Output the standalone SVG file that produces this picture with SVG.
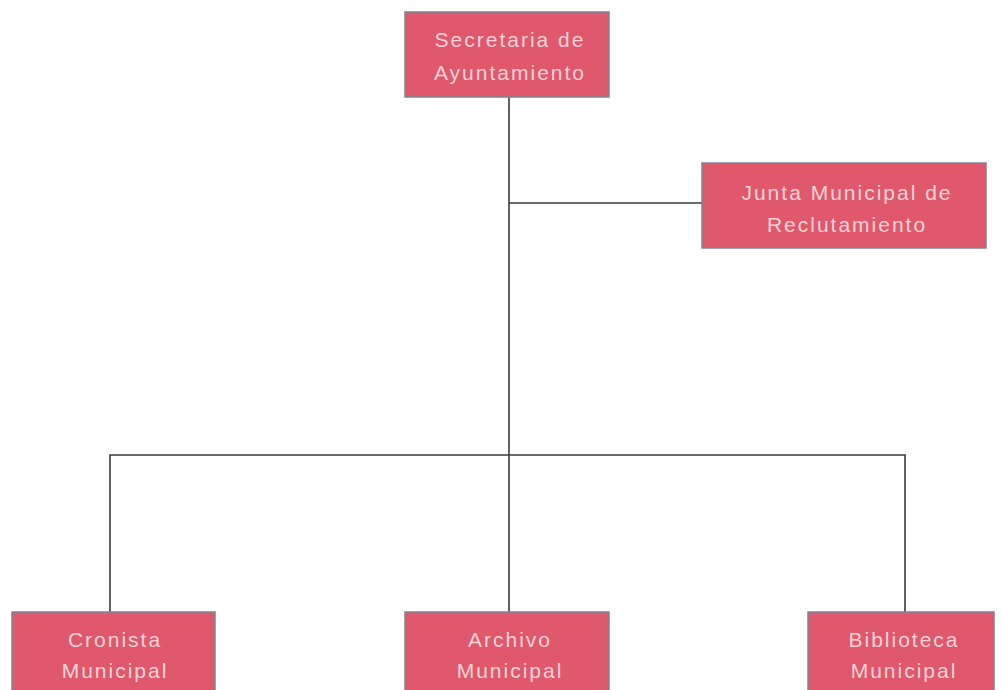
<svg xmlns="http://www.w3.org/2000/svg" width="1001" height="690" viewBox="0 0 1001 690">
  <style>
    .box { fill: #e0586b; stroke: #7d8296; stroke-width: 1.5; }
    .lbl { font-family: "Liberation Sans", Arial, sans-serif; font-size: 21px; fill: #f7d3d8; text-anchor: middle; letter-spacing: 2px; }
    .wire { stroke: #3a3a3a; stroke-width: 1.6; fill: none; }
  </style>
  <rect x="0" y="0" width="1001" height="690" fill="#ffffff"/>

  <!-- connectors -->
  <g id="connectors">
    <line class="wire" x1="509" y1="97" x2="509" y2="612"/>
    <line class="wire" x1="509" y1="203" x2="702" y2="203"/>
    <polyline class="wire" points="110,612 110,455 905,455 905,612"/>
  </g>

  <g id="secretaria">
    <rect class="box" x="405" y="12" width="204" height="85"/>
    <text class="lbl" x="510" y="47">Secretaria de</text>
    <text class="lbl" x="510" y="80">Ayuntamiento</text>
  </g>

  <g id="junta">
    <rect class="box" x="702" y="163" width="284" height="85"/>
    <text class="lbl" x="847" y="200">Junta Municipal de</text>
    <text class="lbl" x="847" y="232">Reclutamiento</text>
  </g>

  <g id="cronista">
    <rect class="box" x="12" y="612" width="203" height="90"/>
    <text class="lbl" x="115" y="647">Cronista</text>
    <text class="lbl" x="115" y="678">Municipal</text>
  </g>

  <g id="archivo">
    <rect class="box" x="405" y="612" width="204" height="90"/>
    <text class="lbl" x="510" y="647">Archivo</text>
    <text class="lbl" x="510" y="678">Municipal</text>
  </g>

  <g id="biblioteca">
    <rect class="box" x="808" y="612" width="186" height="90"/>
    <text class="lbl" x="904" y="647">Biblioteca</text>
    <text class="lbl" x="904" y="678">Municipal</text>
  </g>
</svg>
